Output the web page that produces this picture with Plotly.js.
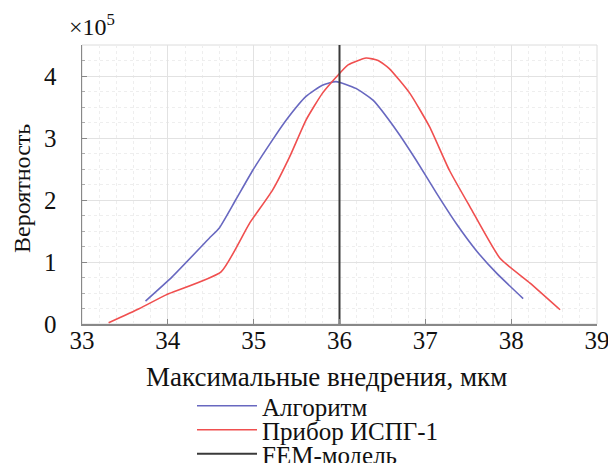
<!DOCTYPE html>
<html>
<head>
<meta charset="utf-8">
<script src="https://cdn.plot.ly/plotly-3.0.1.min.js"></script>
<style>html,body{margin:0;padding:0;background:#fff;}#chart{width:608px;height:463px;}</style>
</head>
<body>
<div id="chart"></div>
<script>
// Data (y in units of 1e5)
const algoX = [33.74, 34.05, 34.48, 34.6, 34.79, 34.99, 35.22, 35.38, 35.61, 35.8, 35.96, 36.19, 36.39, 36.66, 36.89, 37.13, 37.36, 37.59, 37.83, 38.14];
const algoY = [0.37, 0.76, 1.38, 1.55, 2.0, 2.48, 2.97, 3.29, 3.67, 3.85, 3.91, 3.8, 3.61, 3.13, 2.65, 2.11, 1.62, 1.19, 0.82, 0.41];
const devX = [33.31, 33.67, 33.98, 34.62, 34.95, 35.22, 35.42, 35.61, 35.8, 35.96, 36.1, 36.31, 36.45, 36.58, 36.82, 37.05, 37.28, 37.52, 37.87, 38.22, 38.57];
const devY = [0.02, 0.25, 0.47, 0.84, 1.62, 2.16, 2.7, 3.29, 3.72, 3.98, 4.18, 4.29, 4.25, 4.12, 3.72, 3.18, 2.48, 1.89, 1.06, 0.66, 0.23];
const femX = [36, 36];
const femY = [0, 4.5];
const seriesNames = ["Алгоритм", "Прибор ИСПГ-1", "FEM-модель"];
const xTicks = [33, 34, 35, 36, 37, 38, 39];
const yTicks = [0, 1, 2, 3, 4];
const xTitle = "Максимальные внедрения, мкм";
const yTitle = "Вероятность";

const serif = "Liberation Serif";
const traces = [
  {x: algoX, y: algoY, name: seriesNames[0], mode: "lines", legend: "legend", line: {color: "#6868c0", width: 1.6, shape: "spline", smoothing: 0.5}},
  {x: devX, y: devY, name: seriesNames[1], mode: "lines", legend: "legend2", line: {color: "#f04f4f", width: 1.6, shape: "spline", smoothing: 0.5}},
  {x: femX, y: femY, name: seriesNames[2], mode: "lines", legend: "legend3", line: {color: "#3a3a3a", width: 2}}
];

function leg(py) {
  return {xref: "container", yref: "container", x: 192 / 608, xanchor: "left",
          y: 1 - py / 463, yanchor: "middle", itemwidth: 60,
          font: {family: serif, size: 25, color: "#111"}, bgcolor: "rgba(0,0,0,0)"};
}

const layout = {
  width: 608, height: 463,
  margin: {l: 82, r: 11, t: 45, b: 139, autoexpand: false},
  paper_bgcolor: "#fff", plot_bgcolor: "#fff",
  font: {family: serif, color: "#111", size: 25},
  showlegend: true,
  legend: leg(406),
  legend2: leg(430),
  legend3: leg(454),
  xaxis: {
    range: [33, 39], tickvals: xTicks, ticktext: xTicks.map(String),
    ticks: "inside", ticklen: 5, tickcolor: "#888",
    showline: true, linecolor: "#888", linewidth: 1.5,
    showgrid: true, gridcolor: "#e2e2e2", gridwidth: 1,
    minor: {dtick: 0.2, showgrid: true, gridcolor: "#eeeeee", griddash: "dot", ticks: ""},
    zeroline: false, tickfont: {family: serif, size: 25}, tickangle: 0,
    ticklabelstandoff: -7, ticklabeloverflow: "allow"
  },
  yaxis: {
    range: [0, 4.5], tickvals: yTicks, ticktext: yTicks.map(String),
    ticks: "inside", ticklen: 5, tickcolor: "#888",
    showline: true, linecolor: "#888", linewidth: 1.5,
    showgrid: true, gridcolor: "#e2e2e2", gridwidth: 1,
    minor: {dtick: 0.25, showgrid: true, gridcolor: "#eeeeee", griddash: "dot", ticks: "inside", ticklen: 3, tickcolor: "#aaa"},
    zeroline: false, tickfont: {family: serif, size: 25}, ticklabelstandoff: 19
  },
  shapes: [
    {type: "rect", xref: "paper", yref: "paper", x0: 0, x1: 1, y0: 0, y1: 1,
     line: {color: "#dcdcdc", width: 1}, layer: "below"}
  ],
  annotations: [
    {xref: "paper", yref: "paper", x: -0.03, y: 1.01, xanchor: "left", yanchor: "bottom",
     text: "×10<sup>5</sup>", showarrow: false, font: {family: serif, size: 24, color: "#111"}},
    {xref: "paper", yref: "paper", x: (326 - 82) / 515, y: (324 - 377) / 279, xanchor: "center", yanchor: "middle",
     text: xTitle, showarrow: false, font: {family: serif, size: 27, color: "#111"}},
    {xref: "paper", yref: "paper", x: (22 - 82) / 515, y: (324 - 189) / 279, xanchor: "center", yanchor: "middle",
     text: yTitle, textangle: -90, showarrow: false, font: {family: serif, size: 24, color: "#111"}}
  ]
};

Plotly.newPlot("chart", traces, layout, {displayModeBar: false, staticPlot: true});
</script>
</body>
</html>
